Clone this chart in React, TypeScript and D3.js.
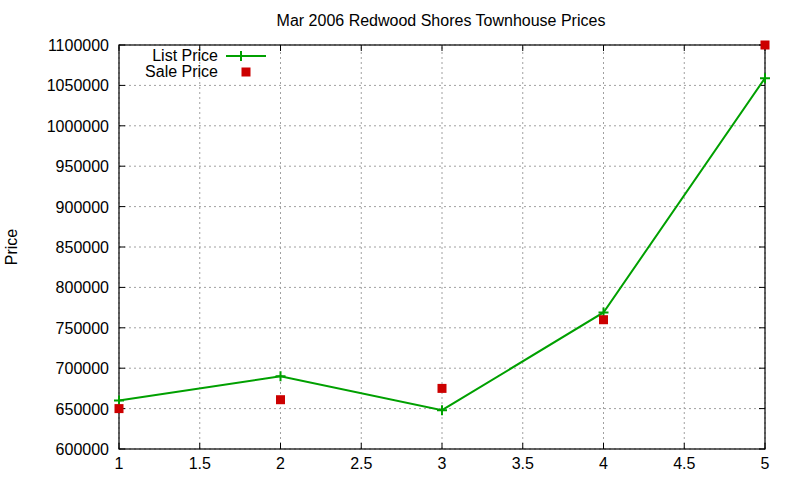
import React from 'react';
import * as d3 from 'd3';

const xValues = [1, 2, 3, 4, 5];
const listPrices = [660000, 690000, 648000, 769000, 1059000];
const salePrices = [650000, 661000, 675000, 760000, 1100000];
const xTicks = [1, 1.5, 2, 2.5, 3, 3.5, 4, 4.5, 5];
const yTicks = [600000, 650000, 700000, 750000, 800000, 850000, 900000, 950000, 1000000, 1050000, 1100000];

const W = 800;
const H = 480;
const margin = { left: 119, right: 35, top: 45, bottom: 31 };
const font = 'Liberation Sans, Arial, sans-serif';
const fs = 16;

export default function App() {
  const x = d3.scaleLinear().domain([1, 5]).range([margin.left, W - margin.right]);
  const y = d3.scaleLinear().domain([600000, 1100000]).range([H - margin.bottom, margin.top]);
  const line = d3.line<number>().x((_, i) => x(xValues[i])).y(d => y(d));
  const x0 = x.range()[0], x1 = x.range()[1];
  const y0 = y.range()[0], y1 = y.range()[1];
  const tk = 6;
  const green = '#00a000';
  const red = '#cc0000';

  return (
    <svg width={W} height={H} style={{ position: 'absolute', left: 0, top: 0, background: '#fff' }} fontFamily={font}>
      <rect width={W} height={H} fill="#fff" />
      {/* grid */}
      {xTicks.map(t => (
        <line key={'gx' + t} x1={x(t)} x2={x(t)} y1={y0} y2={y1} stroke="#a0a0a0" strokeDasharray="2,3" strokeWidth={1} />
      ))}
      {yTicks.map(t => (
        <line key={'gy' + t} x1={x0} x2={x1} y1={y(t)} y2={y(t)} stroke="#a0a0a0" strokeDasharray="2,3" strokeWidth={1} />
      ))}
      {/* ticks */}
      {xTicks.map(t => (
        <g key={'tx' + t}>
          <line x1={x(t)} x2={x(t)} y1={y0} y2={y0 - tk} stroke="#000" />
          <line x1={x(t)} x2={x(t)} y1={y1} y2={y1 + tk} stroke="#000" />
          <text x={x(t)} y={y0 + 20} textAnchor="middle" fontSize={fs}>{t}</text>
        </g>
      ))}
      {yTicks.map(t => (
        <g key={'ty' + t}>
          <line x1={x0} x2={x0 + tk} y1={y(t)} y2={y(t)} stroke="#000" />
          <line x1={x1} x2={x1 - tk} y1={y(t)} y2={y(t)} stroke="#000" />
          <text x={x0 - 10} y={y(t) + 6} textAnchor="end" fontSize={fs}>{t}</text>
        </g>
      ))}
      <rect x={x0} y={y1} width={x1 - x0} height={y0 - y1} fill="none" stroke="#000" strokeWidth={1.2} />
      {/* series */}
      <path d={line(listPrices) ?? ''} fill="none" stroke={green} strokeWidth={2} />
      {listPrices.map((v, i) => (
        <path key={'lp' + i} d={`M${x(xValues[i]) - 5},${y(v)}h10M${x(xValues[i])},${y(v) - 5}v10`} stroke={green} strokeWidth={2} />
      ))}
      {salePrices.map((v, i) => (
        <rect key={'sp' + i} x={x(xValues[i]) - 4.5} y={y(v) - 4.5} width={9} height={9} fill={red} />
      ))}
      {/* legend */}
      <text x={218} y={61} textAnchor="end" fontSize={fs}>List Price</text>
      <line x1={226} x2={266} y1={56} y2={56} stroke={green} strokeWidth={2} />
      <path d="M241,51v10M236,56h10" stroke={green} strokeWidth={2} />
      <text x={218} y={77} textAnchor="end" fontSize={fs}>Sale Price</text>
      <rect x={241.5} y={67.5} width={9} height={9} fill={red} />
      {/* title and labels */}
      <text x={441} y={26} textAnchor="middle" fontSize={fs}>Mar 2006 Redwood Shores Townhouse Prices</text>
      <text transform={`translate(17,${(y0 + y1) / 2}) rotate(-90)`} textAnchor="middle" fontSize={fs}>Price</text>
    </svg>
  );
}
